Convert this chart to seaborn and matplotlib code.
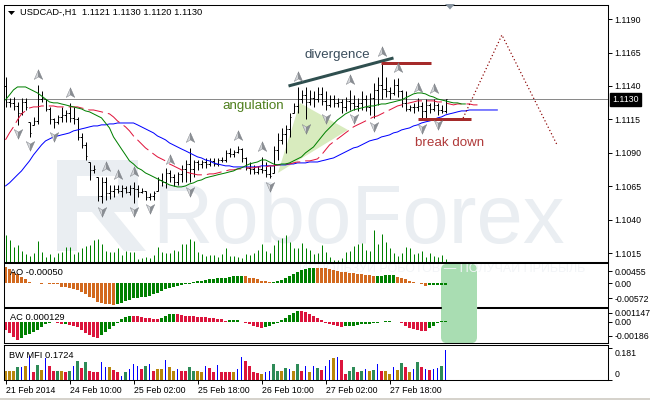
import numpy as np
import matplotlib
matplotlib.use("Agg")
import matplotlib.pyplot as plt
import seaborn as sns
from matplotlib.path import Path
from matplotlib.patches import FancyBboxPatch, Polygon, Rectangle
from matplotlib.lines import Line2D
from matplotlib.transforms import IdentityTransform, ScaledTranslation

# ---------------- USDCAD H1 bars ----------------
opens = [1.1140, 1.1128, 1.1127, 1.1125, 1.1120, 1.1128, 1.1113, 1.1111, 1.1114, 1.1130,
         1.1130, 1.1123, 1.1115, 1.1113, 1.1117, 1.1118, 1.1120, 1.1116, 1.1115, 1.1102,
         1.1096, 1.1083, 1.1077, 1.1072, 1.1058, 1.1068, 1.1060, 1.1062, 1.1063, 1.1062,
         1.1064, 1.1061, 1.1064, 1.1063, 1.1061, 1.1062, 1.1057, 1.1058, 1.1062, 1.1070,
         1.1068, 1.1075, 1.1072, 1.1068, 1.1074, 1.1078, 1.1082, 1.1078, 1.1083, 1.1082,
         1.1083, 1.1082, 1.1084, 1.1082, 1.1085, 1.1085, 1.1090, 1.1089, 1.1091, 1.1093,
         1.1086, 1.1079, 1.1078, 1.1076, 1.1078, 1.1077, 1.1074, 1.1075, 1.1092, 1.1100,
         1.1104, 1.1108, 1.1120, 1.1125, 1.1130, 1.1133, 1.1128, 1.1131, 1.1130, 1.1134,
         1.1129, 1.1126, 1.1130, 1.1127, 1.1128, 1.1124, 1.1129, 1.1127, 1.1125, 1.1127,
         1.1130, 1.1124, 1.1131, 1.1137, 1.1141, 1.1138, 1.1136, 1.1135, 1.1141, 1.1136,
         1.1127, 1.1123, 1.1124, 1.1124, 1.1125, 1.1121, 1.1126, 1.1123, 1.1126, 1.1122,
         1.1121]
high = [1.1147, 1.1131, 1.1132, 1.1128, 1.1131, 1.1131, 1.1113, 1.1117, 1.1141, 1.1136,
        1.1130, 1.1124, 1.1116, 1.1118, 1.1124, 1.1122, 1.1127, 1.1124, 1.1117, 1.1105,
        1.1098, 1.1083, 1.1081, 1.1072, 1.1072, 1.1072, 1.1066, 1.1066, 1.1066, 1.1066,
        1.1065, 1.1066, 1.1068, 1.1066, 1.1064, 1.1062, 1.1060, 1.1062, 1.1072, 1.1075,
        1.1079, 1.1077, 1.1074, 1.1076, 1.1081, 1.1085, 1.1094, 1.1085, 1.1085, 1.1085,
        1.1086, 1.1086, 1.1086, 1.1086, 1.1087, 1.1092, 1.1094, 1.1092, 1.1095, 1.1094,
        1.1087, 1.1083, 1.1081, 1.1080, 1.1087, 1.1083, 1.1080, 1.1095, 1.1105, 1.1109,
        1.1111, 1.1120, 1.1127, 1.1139, 1.1137, 1.1139, 1.1137, 1.1136, 1.1139, 1.1139,
        1.1136, 1.1133, 1.1133, 1.1131, 1.1130, 1.1132, 1.1137, 1.1133, 1.1131, 1.1136,
        1.1133, 1.1135, 1.1142, 1.1147, 1.1158, 1.1147, 1.1139, 1.1145, 1.1146, 1.1137,
        1.1136, 1.1126, 1.1127, 1.1131, 1.1128, 1.1130, 1.1127, 1.1130, 1.1127, 1.1126,
        1.1130]
low = [1.1124, 1.1124, 1.1122, 1.1111, 1.1118, 1.1122, 1.1102, 1.1111, 1.1112, 1.1128,
       1.1121, 1.1112, 1.1109, 1.1112, 1.1113, 1.1113, 1.1113, 1.1112, 1.1100, 1.1094,
       1.1085, 1.1070, 1.1075, 1.1054, 1.1053, 1.1055, 1.1056, 1.1057, 1.1060, 1.1057,
       1.1060, 1.1059, 1.1053, 1.1057, 1.1060, 1.1055, 1.1055, 1.1055, 1.1062, 1.1065,
       1.1064, 1.1068, 1.1065, 1.1066, 1.1068, 1.1068, 1.1068, 1.1072, 1.1077, 1.1079,
       1.1079, 1.1080, 1.1080, 1.1080, 1.1083, 1.1083, 1.1087, 1.1087, 1.1090, 1.1083,
       1.1077, 1.1074, 1.1074, 1.1074, 1.1075, 1.1072, 1.1071, 1.1075, 1.1085, 1.1097,
       1.1090, 1.1102, 1.1120, 1.1120, 1.1127, 1.1115, 1.1126, 1.1124, 1.1128, 1.1126,
       1.1122, 1.1124, 1.1124, 1.1124, 1.1120, 1.1121, 1.1122, 1.1122, 1.1121, 1.1122,
       1.1121, 1.1118, 1.1116, 1.1126, 1.1130, 1.1132, 1.1130, 1.1133, 1.1132, 1.1124,
       1.1121, 1.1121, 1.1120, 1.1121, 1.1115, 1.1116, 1.1120, 1.1121, 1.1118, 1.1120,
       1.1120]
close = [1.1128, 1.1127, 1.1125, 1.1120, 1.1128, 1.1124, 1.1105, 1.1114, 1.1130, 1.1131,
         1.1123, 1.1115, 1.1113, 1.1117, 1.1118, 1.1120, 1.1116, 1.1115, 1.1102, 1.1096,
         1.1088, 1.1077, 1.1078, 1.1058, 1.1068, 1.1060, 1.1062, 1.1063, 1.1062, 1.1064,
         1.1061, 1.1064, 1.1063, 1.1061, 1.1062, 1.1057, 1.1058, 1.1060, 1.1070, 1.1068,
         1.1075, 1.1072, 1.1068, 1.1074, 1.1078, 1.1082, 1.1078, 1.1083, 1.1082, 1.1083,
         1.1082, 1.1084, 1.1082, 1.1085, 1.1085, 1.1090, 1.1089, 1.1091, 1.1093, 1.1086,
         1.1079, 1.1078, 1.1076, 1.1078, 1.1077, 1.1074, 1.1073, 1.1092, 1.1100, 1.1104,
         1.1108, 1.1117, 1.1125, 1.1130, 1.1133, 1.1128, 1.1131, 1.1130, 1.1134, 1.1129,
         1.1126, 1.1130, 1.1127, 1.1128, 1.1124, 1.1129, 1.1127, 1.1125, 1.1127, 1.1130,
         1.1124, 1.1131, 1.1137, 1.1141, 1.1138, 1.1136, 1.1135, 1.1141, 1.1136, 1.1127,
         1.1123, 1.1124, 1.1124, 1.1125, 1.1121, 1.1126, 1.1123, 1.1126, 1.1122, 1.1121,
         1.1130]
tick_volume = [2700, 2200, 1500, 1700, 1100, 800, 600, 900, 2100, 1000,
               500, 800, 500, 900, 1000, 1500, 1500, 800, 1000, 1400,
               1600, 1700, 2200, 2300, 1800, 1100, 1000, 1000, 1400, 700,
               1100, 1000, 1000, 300, 400, 500, 400, 700, 1500, 1000,
               900, 900, 1200, 1100, 1800, 1800, 2300, 2100, 1000, 800,
               600, 700, 700, 500, 800, 1400, 600, 600, 500, 400,
               800, 700, 900, 1200, 1800, 1100, 900, 1700, 2200, 2400,
               2700, 2000, 1400, 1400, 1900, 1400, 1200, 800, 900, 1700,
               1000, 500, 200, 200, 400, 1000, 1100, 1600, 1800, 1900,
               1200, 1100, 3200, 1800, 2800, 2000, 1400, 900, 600, 900,
               1500, 1400, 800, 900, 1100, 500, 900, 600, 500, 700,
               300]

# Alligator lines (lips / teeth / jaw), shifted forward past the last bar
lips = [1.11296, 1.11333, 1.11371, 1.11393, 1.11393, 1.11393, 1.11378, 1.11363, 1.11348, 1.11326,
        1.11303, 1.11281, 1.11274, 1.11274, 1.11266, 1.11259, 1.11251, 1.11244, 1.11236, 1.11229,
        1.11214, 1.11207, 1.11192, 1.11177, 1.11162, 1.11124, 1.11087, 1.11020, 1.10975, 1.10930,
        1.10886, 1.10841, 1.10818, 1.10789, 1.10774, 1.10751, 1.10737, 1.10722, 1.10707, 1.10692,
        1.10677, 1.10662, 1.10654, 1.10647, 1.10647, 1.10654, 1.10669, 1.10677, 1.10692, 1.10699,
        1.10714, 1.10722, 1.10729, 1.10737, 1.10744, 1.10751, 1.10759, 1.10766, 1.10781, 1.10789,
        1.10804, 1.10818, 1.10826, 1.10833, 1.10848, 1.10848, 1.10833, 1.10818, 1.10811, 1.10818,
        1.10818, 1.10826, 1.10841, 1.10856, 1.10871, 1.10901, 1.10923, 1.10945, 1.10983, 1.11020,
        1.11057, 1.11087, 1.11117, 1.11147, 1.11169, 1.11192, 1.11207, 1.11221, 1.11229, 1.11236,
        1.11244, 1.11251, 1.11251, 1.11259, 1.11266, 1.11266, 1.11274, 1.11281, 1.11289, 1.11296,
        1.11311, 1.11326, 1.11341, 1.11348, 1.11348, 1.11341, 1.11326, 1.11318, 1.11303, 1.11296,
        1.11289, 1.11281, 1.11274, 1.11274, 1.11266, 1.11266]
teeth = [1.10998, 1.11050, 1.11095, 1.11147, 1.11192, 1.11214, 1.11236, 1.11244, 1.11244, 1.11251,
         1.11251, 1.11251, 1.11251, 1.11244, 1.11244, 1.11244, 1.11244, 1.11244, 1.11244, 1.11236,
         1.11229, 1.11221, 1.11221, 1.11214, 1.11207, 1.11199, 1.11192, 1.11169, 1.11139, 1.11117,
         1.11095, 1.11065, 1.11027, 1.10998, 1.10968, 1.10938, 1.10916, 1.10893, 1.10871, 1.10856,
         1.10841, 1.10818, 1.10804, 1.10789, 1.10774, 1.10759, 1.10751, 1.10744, 1.10737, 1.10737,
         1.10737, 1.10744, 1.10744, 1.10751, 1.10759, 1.10766, 1.10774, 1.10774, 1.10781, 1.10781,
         1.10789, 1.10789, 1.10789, 1.10796, 1.10796, 1.10796, 1.10804, 1.10804, 1.10811, 1.10811,
         1.10818, 1.10818, 1.10826, 1.10833, 1.10833, 1.10841, 1.10841, 1.10848, 1.10856, 1.10886,
         1.10923, 1.10960, 1.10983, 1.11005, 1.11027, 1.11050, 1.11072, 1.11095, 1.11110, 1.11124,
         1.11139, 1.11154, 1.11169, 1.11177, 1.11192, 1.11207, 1.11221, 1.11236, 1.11251, 1.11259,
         1.11266, 1.11274, 1.11281, 1.11289, 1.11289, 1.11289, 1.11289, 1.11289, 1.11281, 1.11281,
         1.11274, 1.11266, 1.11259, 1.11266, 1.11266, 1.11266, 1.11266, 1.11259, 1.11259]
jaw = [1.10654, 1.10677, 1.10707, 1.10737, 1.10766, 1.10804, 1.10841, 1.10886, 1.10923, 1.10960,
       1.10990, 1.11005, 1.11020, 1.11027, 1.11035, 1.11042, 1.11050, 1.11065, 1.11072, 1.11080,
       1.11087, 1.11095, 1.11102, 1.11102, 1.11110, 1.11110, 1.11117, 1.11117, 1.11124, 1.11124,
       1.11124, 1.11124, 1.11124, 1.11110, 1.11095, 1.11080, 1.11065, 1.11050, 1.11027, 1.11013,
       1.10998, 1.10975, 1.10960, 1.10945, 1.10930, 1.10916, 1.10901, 1.10886, 1.10871, 1.10863,
       1.10848, 1.10841, 1.10826, 1.10818, 1.10811, 1.10804, 1.10804, 1.10796, 1.10796, 1.10796,
       1.10796, 1.10796, 1.10796, 1.10796, 1.10804, 1.10804, 1.10804, 1.10804, 1.10811, 1.10811,
       1.10811, 1.10818, 1.10818, 1.10826, 1.10826, 1.10826, 1.10833, 1.10833, 1.10833, 1.10841,
       1.10848, 1.10856, 1.10863, 1.10878, 1.10893, 1.10908, 1.10923, 1.10938, 1.10945, 1.10960,
       1.10975, 1.10990, 1.10998, 1.11005, 1.11020, 1.11027, 1.11035, 1.11050, 1.11057, 1.11072,
       1.11080, 1.11087, 1.11102, 1.11110, 1.11124, 1.11132, 1.11139, 1.11147, 1.11162, 1.11169,
       1.11184, 1.11192, 1.11199, 1.11207, 1.11214, 1.11214, 1.11221, 1.11221, 1.11221, 1.11221,
       1.11221, 1.11221, 1.11221, 1.11221]

# Bill Williams fractals (bar indices)
fractal_up = [8, 16, 25, 28, 32, 41, 46, 58, 64, 73, 86, 94, 98, 103, 107]
fractal_down = [3, 6, 12, 24, 32, 36, 46, 66, 75, 80, 87, 92, 104, 108]

# Awesome Oscillator
ao = [0.00634, 0.00545, 0.00443, 0.00342, 0.00253, 0.00165, 0.00063, 0.00015, 0.00008, -0.00010,
      -0.00006, -0.00014, -0.00018, -0.00025, -0.00127, -0.00152, -0.00190, -0.00215, -0.00253, -0.00342,
      -0.00418, -0.00507, -0.00570, -0.00697, -0.00760, -0.00786, -0.00798, -0.00824, -0.00786, -0.00735,
      -0.00672, -0.00634, -0.00570, -0.00545, -0.00532, -0.00507, -0.00469, -0.00418, -0.00355, -0.00279,
      -0.00228, -0.00190, -0.00152, -0.00101, -0.00063, -0.00038, -0.00025, 0.00038, 0.00076, 0.00101,
      0.00139, 0.00152, 0.00177, 0.00190, 0.00192, 0.00215, 0.00253, 0.00279, 0.00281, 0.00283,
      0.00276, 0.00215, 0.00190, 0.00152, 0.00101, 0.00089, 0.00063, 0.00066, 0.00089, 0.00127,
      0.00190, 0.00279, 0.00355, 0.00443, 0.00507, 0.00545, 0.00570, 0.00595, 0.00593, 0.00570,
      0.00565, 0.00545, 0.00507, 0.00481, 0.00443, 0.00418, 0.00393, 0.00380, 0.00355, 0.00342,
      0.00317, 0.00314, 0.00291, 0.00293, 0.00296, 0.00298, 0.00301, 0.00304, 0.00253, 0.00190,
      0.00152, 0.00101, 0.00063, 0.00013, -0.00038, -0.00089, -0.00080, -0.00070, -0.00060, -0.00055,
      -0.00050]

# Accelerator Oscillator
ac = [-0.00108, -0.00152, -0.00195, -0.00238, -0.00217, -0.00173, -0.00160, -0.00139, -0.00108, -0.00065,
      -0.00030, -0.00022, -0.00009, -0.00013, -0.00035, -0.00026, -0.00043, -0.00052, -0.00065, -0.00108,
      -0.00152, -0.00173, -0.00195, -0.00208, -0.00173, -0.00139, -0.00095, -0.00052, -0.00022, 0.00035,
      0.00061, 0.00078, 0.00076, 0.00069, 0.00065, 0.00052, 0.00043, 0.00039, 0.00038, 0.00052,
      0.00078, 0.00095, 0.00104, 0.00095, 0.00087, 0.00078, 0.00074, 0.00069, 0.00067, 0.00061,
      0.00056, 0.00052, 0.00043, 0.00035, 0.00030, 0.00013, 0.00017, 0.00022, 0.00026, -0.00003,
      -0.00013, -0.00030, -0.00052, -0.00065, -0.00087, -0.00074, -0.00056, -0.00035, -0.00013, 0.00022,
      0.00052, 0.00087, 0.00113, 0.00139, 0.00134, 0.00121, 0.00104, 0.00074, 0.00043, 0.00022,
      -0.00022, -0.00035, -0.00043, -0.00052, -0.00065, -0.00061, -0.00056, -0.00052, -0.00043, -0.00035,
      -0.00030, -0.00026, -0.00022, -0.00017, 0.00002, 0.00004, 0.00006, 0.00002, -0.00004, -0.00013,
      -0.00052, -0.00078, -0.00095, -0.00108, -0.00117, -0.00121, -0.00087, -0.00052, -0.00022, 0.00004,
      0.000129]

# Market Facilitation Index and its bar type
# G = green (MFI up, vol up), B = fade (both down), U = fake (MFI up, vol down), R = squat (MFI down, vol up)
bw_mfi = [0.052, 0.052, 0.052, 0.072, 0.072, 0.081, 0.140, 0.043, 0.087, 0.058,
          0.124, 0.081, 0.049, 0.052, 0.052, 0.043, 0.052, 0.081, 0.111, 0.068,
          0.101, 0.052, 0.047, 0.043, 0.101, 0.072, 0.072, 0.058, 0.043, 0.023,
          0.047, 0.062, 0.091, 0.078, 0.062, 0.081, 0.091, 0.052, 0.062, 0.062,
          0.116, 0.072, 0.052, 0.062, 0.052, 0.052, 0.072, 0.052, 0.049, 0.043,
          0.078, 0.066, 0.047, 0.085, 0.047, 0.047, 0.047, 0.043, 0.062, 0.134,
          0.111, 0.081, 0.043, 0.039, 0.033, 0.047, 0.052, 0.091, 0.052, 0.052,
          0.066, 0.062, 0.052, 0.091, 0.052, 0.081, 0.047, 0.081, 0.066, 0.058,
          0.081, 0.116, 0.124, 0.134, 0.116, 0.033, 0.052, 0.076, 0.043, 0.052,
          0.062, 0.052, 0.058, 0.091, 0.052, 0.052, 0.033, 0.076, 0.058, 0.095,
          0.076, 0.047, 0.062, 0.101, 0.076, 0.062, 0.058, 0.062, 0.068, 0.078,
          0.1724]
mfi_kind = ["B", "B", "B", "G", "U", "B", "U", "R", "G", "B",
            "U", "R", "R", "G", "B", "R", "G", "U", "G", "R",
            "G", "R", "R", "R", "U", "U", "B", "R", "R", "U",
            "G", "U", "U", "U", "R", "G", "U", "R", "B", "B",
            "U", "B", "B", "U", "R", "R", "G", "G", "B", "B",
            "U", "R", "R", "U", "R", "R", "R", "B", "U", "U",
            "R", "R", "R", "R", "B", "U", "U", "G", "G", "B",
            "G", "U", "B", "G", "R", "U", "B", "U", "G", "R",
            "U", "U", "B", "U", "R", "R", "G", "G", "R", "G",
            "U", "B", "G", "U", "R", "B", "B", "U", "B", "G",
            "R", "B", "U", "G", "R", "U", "R", "U", "U", "G",
            "U"]

time_ticks = [0, 16, 32, 48, 64, 80, 96]
time_labels = ["21 Feb 2014", "24 Feb 10:00", "25 Feb 02:00", "25 Feb 18:00",
               "26 Feb 10:00", "27 Feb 02:00", "27 Feb 18:00"]
price_ticks = [1.1190, 1.1165, 1.1140, 1.1115, 1.1090, 1.1065, 1.1040, 1.1015]
last_price = 1.1130

# ---------------- figure setup ----------------
W, H = 650, 400
sns.set_theme(style="white")
plt.rcParams["font.family"] = ["Liberation Sans", "DejaVu Sans"]
PX = 72 / 100  # one pixel, in points

fig = plt.figure(figsize=(W / 100, H / 100), dpi=100)
fig.patch.set_facecolor("white")


def frame(x0, y0, x1, y1):
    return [x0 / W, 1 - y1 / H, (x1 - x0) / W, (y1 - y0) / H]


def px(x, y):
    return (x, H - y)


IDT = IdentityTransform()

ax = fig.add_axes(frame(4, 5, 608, 261.5))
ax_vol = ax.twinx()
ax_ao = fig.add_axes(frame(4, 263.3, 608, 306.7), sharex=ax)
ax_ac = fig.add_axes(frame(4, 308.3, 608, 343.3), sharex=ax)
ax_mfi = fig.add_axes(frame(4, 345, 608, 380), sharex=ax)
ax.set_zorder(2)
ax_vol.set_zorder(1)

for a in (ax, ax_ao, ax_ac, ax_mfi):
    a.set_facecolor("none")
    for s in a.spines.values():
        s.set_color("black")
        s.set_linewidth(0.75)
    a.yaxis.tick_right()
    a.tick_params(axis="y", which="both", direction="out", length=3, width=0.7,
                  pad=1.5, labelsize=6.3, colors="black", left=False, right=True,
                  labelleft=False, labelright=True)
    a.tick_params(axis="x", bottom=False, labelbottom=False, top=False)
    a.grid(False)

for s in ax_vol.spines.values():
    s.set_visible(False)
ax_vol.set_yticks([])
ax_vol.tick_params(right=False, labelright=False)

idx = np.arange(len(close))

# ---------------- watermark (behind everything in the price pane) ----------------
wm = "#EAEEF2"
for verts in ([(57, 160), (77, 160), (77, 251), (57, 251)],
              [(57, 160), (132, 160), (132, 176), (57, 176)],
              [(118, 160), (138, 160), (138, 210), (118, 210)],
              [(57, 196), (138, 196), (138, 212), (57, 212)],
              [(92, 212), (114, 212), (146, 251), (124, 251)]):
    ax_vol.add_patch(Polygon([px(x, y) for x, y in verts], closed=True, transform=IDT,
                             fc=wm, ec="none", zorder=0, clip_on=True))
ax_vol.text(*px(152, 243), "RoboForex", transform=IDT, fontsize=60, color=wm,
            ha="left", va="baseline", zorder=0, clip_on=True)

# tick volumes along the bottom of the price pane
ax_vol.vlines(idx, 0, tick_volume, color="#008000", linewidth=PX, zorder=2)
ax_vol.set_ylim(0, 25650)

# ---------------- price pane ----------------
# angulation wedge
ax.add_patch(Polygon([(73.6, 1.11273), (85.6, 1.11072), (68.1, 1.10751)], closed=True,
                     fc="#D8EBBE", ec="none", zorder=1))
ax.axhline(last_price, color="#8A8A8A", linewidth=PX, zorder=1.5)

# OHLC bars
ax.vlines(idx, low, high, color="black", linewidth=PX, zorder=3)
ax.hlines(opens, idx - 0.45, idx, color="black", linewidth=PX, zorder=3)
ax.hlines(close, idx, idx + 0.45, color="black", linewidth=PX, zorder=3)

# Alligator
sns.lineplot(x=np.arange(len(jaw)), y=jaw, ax=ax, color="#0000FF", linewidth=PX, zorder=4)
sns.lineplot(x=np.arange(len(teeth)), y=teeth, ax=ax, color="#E0143C", linewidth=PX,
             linestyle=(0, (15, 5)), zorder=4)
sns.lineplot(x=np.arange(len(lips)), y=lips, ax=ax, color="#008000", linewidth=PX, zorder=4)

# fractal arrows (two-tone arrowheads)
left_half = [(0, 1), (-0.75, -0.7), (0, -0.25), (0, 1)]
right_half = [(0, 1), (0, -0.25), (0.75, -0.7), (0, 1)]
fu = np.array(fractal_up)
fd = np.array(fractal_down)
up_y = np.array(high)[fu] + 0.00075
dn_y = np.array(low)[fd] - 0.00060
for half, col in ((left_half, "#D4D6DA"), (right_half, "#8A8E94")):
    ax.scatter(fu, up_y, marker=Path(half, closed=True), s=66, c=col,
               edgecolors="#75797F", linewidths=0.3, zorder=6)
    ax.scatter(fd, dn_y, marker=Path([(x, -y) for x, y in half], closed=True), s=66, c=col,
               edgecolors="#75797F", linewidths=0.3, zorder=6)

# analysis markup
ax.plot([70.75, 97.0], [1.11400, 1.11609], color="#2F4F4F", linewidth=3 * PX,
        solid_capstyle="butt", zorder=5)
ax.hlines(1.11574, 93.75, 106.25, color="#A52A2A", linewidth=3 * PX, zorder=5)
ax.hlines(1.11154, 103.0, 116.25, color="#A52A2A", linewidth=3 * PX, zorder=5)
ax.plot([114.4, 124.1, 137.9], [1.11161, 1.11781, 1.10960], color="#8B0000",
        linewidth=1.2 * PX, linestyle=(0, (1, 2)), zorder=5)
ax.text(82.9, 1.11631, "divergence", ha="center", va="center", fontsize=9.6,
        color="#3A4D5C", zorder=7)
ax.text(61.9, 1.11251, "angulation", ha="center", va="center", fontsize=9.6,
        color="#4E7F1C", zorder=7)
ax.text(110.9, 1.10975, "break down", ha="center", va="center", fontsize=9.6,
        color="#B03A3A", zorder=7)

ax.set_xlim(-0.375, 150.625)
ax.set_ylim(1.100902, 1.120045)
ax.set_xlabel("")
ax.set_ylabel("")
ax.set_yticks(price_ticks)
ax.set_yticklabels([f"{v:.4f}" for v in price_ticks])
ax.annotate(f"{last_price:.4f}", xy=(1, last_price), xycoords=("axes fraction", "data"),
            xytext=(4, 0), textcoords="offset pixels", ha="left", va="center",
            fontsize=6.3, color="white", annotation_clip=False, zorder=8,
            bbox=dict(boxstyle="square,pad=0.25", fc="black", ec="black"))

# ---------------- AO pane ----------------
ao_arr = np.array(ao)
ao_col = np.where(np.r_[False, np.diff(ao_arr) > 0], "#008000", "#D2691E")
ax_ao.text(*px(585, 272), "ИСПОЛЬЗУЙ РОБОТОВ — ПОЛУЧАЙ ПРИБЫЛЬ", transform=IDT,
           fontsize=9, color="#F2F4F7", ha="right", va="baseline", zorder=0, clip_on=True)
ax_ao.bar(idx, ao_arr, width=0.75, color=ao_col, linewidth=0, zorder=2)
ax_ao.set_ylim(-0.00889, 0.0076)
ax_ao.set_yticks([0.00455, 0.0, -0.00572])
ax_ao.set_yticklabels(["0.00455", "0.00", "-0.00572"])

# ---------------- AC pane ----------------
ac_arr = np.array(ac)
ac_col = np.where(np.r_[False, np.diff(ac_arr) > 0], "#008000", "#DC143C")
ax_ac.bar(idx, ac_arr, width=0.75, color=ac_col, linewidth=0, zorder=2)
ax_ac.set_ylim(-0.00281, 0.00174)
ax_ac.set_yticks([0.001147, 0.0, -0.00186])
ax_ac.set_yticklabels(["0.001147", "0.00", "-0.00186"])

# ---------------- BW MFI pane ----------------
kind_color = {"G": "#2E8B57", "B": "#B8860B", "U": "#0000FF", "R": "#DC143C"}
mfi_arr = np.array(bw_mfi)
kinds = np.array(mfi_kind)
for k, col in kind_color.items():
    sel = kinds == k
    ax_mfi.bar(idx[sel], mfi_arr[sel], width=0.25 if k == "U" else 0.75,
               color=col, linewidth=0, zorder=2)
ax_mfi.set_ylim(0, 0.200)
ax_mfi.set_yticks([0.181, 0.0])
ax_mfi.set_yticklabels(["0.181", "0"])
for lbl, dy in zip(ax_mfi.get_yticklabels(), (-4.4, 6.7)):
    lbl.set_transform(lbl.get_transform() + ScaledTranslation(0, dy / 100, fig.dpi_scale_trans))

ax_mfi.set_xticks(time_ticks)
ax_mfi.set_xticklabels(time_labels)
ax_mfi.tick_params(axis="x", bottom=True, labelbottom=True, direction="out", length=3,
                   width=0.7, pad=1.5, labelsize=6.3, colors="black")
for lbl in ax_mfi.get_xticklabels():
    lbl.set_ha("left")
ax_mfi.set_xlim(-0.375, 150.625)

# ---------------- highlight box across AO / AC ----------------
fig.add_artist(FancyBboxPatch(px(441, 343.2), 36, 79.4,
                              boxstyle="round,pad=0,rounding_size=6", transform=IDT,
                              fc="#A9DDB2", ec="none", zorder=-1))
ax_ao.spines["bottom"].set_visible(False)
ax_ac.spines["top"].set_visible(False)
for yy in (306.7, 308.3):
    for x0, x1 in ((4, 441), (477, 608)):
        fig.add_artist(Line2D([x0, x1], [H - yy, H - yy], transform=IDT,
                              color="black", linewidth=0.75))

# ---------------- header and pane labels ----------------
fig.add_artist(Polygon([px(8, 11), px(15, 11), px(11.5, 15)], closed=True,
                       transform=IDT, fc="black", ec="none"))
fig.text(20 / W, 1 - 12.5 / H, "USDCAD-,H1  1.1121 1.1130 1.1120 1.1130",
         fontsize=6.7, va="center", ha="left", color="black")
fig.text(10 / W, 1 - 272.5 / H, "AO -0.00050", fontsize=6.7, va="center", color="black")
fig.text(10 / W, 1 - 317 / H, "AC 0.000129", fontsize=6.7, va="center", color="black")
fig.text(9 / W, 1 - 355 / H, "BW MFI 0.1724", fontsize=6.7, va="center", color="black")
fig.add_artist(Polygon([px(445, 4), px(455, 4), px(450, 9.5)], closed=True,
                       transform=IDT, fc="#8894A0", ec="none", zorder=5))
fig.add_artist(Rectangle((0, 0), W, 2.5, transform=IDT, fc="#D6D3CC", ec="none"))

fig.savefig("out.png", dpi=100)
